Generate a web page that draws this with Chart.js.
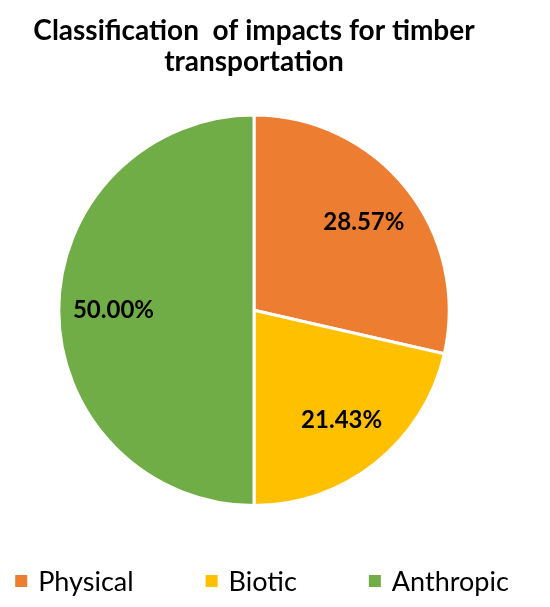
<!DOCTYPE html>
<html lang="en">
<head>
    <meta charset="UTF-8">
    <title>Timber transportation impacts</title>
    <script src="https://cdn.jsdelivr.net/npm/chart.js"></script>
    <style>
        body { margin: 0; background: #fff; }
    </style>
</head>
<body>
<canvas id="myChart" width="550" height="607"></canvas>
<script>
const categories = ['Physical', 'Biotic', 'Anthropic'];
const shares = [28.57, 21.43, 50.00];
const sliceColors = ['#ED7D31', '#FFC000', '#70AD47'];
const titleLines = ['Classification  of impacts for timber', 'transportation'];

const FONT = 'Lato, "Open Sans", sans-serif';

// percentages written inside each slice
const sliceLabels = {
    id: 'sliceLabels',
    afterDatasetsDraw(chart) {
        const c = chart.ctx;
        const meta = chart.getDatasetMeta(0);
        c.save();
        c.font = 'bold 24px ' + FONT;
        c.fillStyle = '#000';
        c.textAlign = 'center';
        c.textBaseline = 'middle';
        meta.data.forEach((arc, i) => {
            const mid = (arc.startAngle + arc.endAngle) / 2;
            const r = arc.outerRadius * 0.72;
            c.fillText(shares[i].toFixed(2) + '%', arc.x + Math.cos(mid) * r, arc.y + Math.sin(mid) * r);
        });
        c.restore();
    }
};

// legend row along the bottom, wider spacing than the built-in legend allows
const bottomLegend = {
    id: 'bottomLegend',
    afterDraw(chart) {
        const c = chart.ctx;
        const box = 12, gap = 11, spacing = 72;
        c.save();
        c.font = '27px ' + FONT;
        const widths = categories.map(t => c.measureText(t).width);
        const total = widths.reduce((a, w) => a + box + gap + w, 0) + spacing * (categories.length - 1);
        let x = 262 - total / 2;
        const y = 581;
        c.textBaseline = 'middle';
        categories.forEach((t, i) => {
            c.fillStyle = sliceColors[i];
            c.fillRect(x, y - box / 2, box, box);
            c.fillStyle = '#000';
            c.fillText(t, x + box + gap, y + 1);
            x += box + gap + widths[i] + spacing;
        });
        c.restore();
    }
};

new Chart(document.getElementById('myChart'), {
    type: 'pie',
    data: {
        labels: categories,
        datasets: [{
            data: shares,
            backgroundColor: sliceColors,
            borderColor: '#fff',
            borderWidth: 3
        }]
    },
    options: {
        responsive: false,
        animation: false,
        layout: { padding: { left: 0, right: 42, top: 16, bottom: 100 } },
        plugins: {
            title: {
                display: true,
                text: titleLines,
                color: '#000',
                font: { family: FONT, size: 28, weight: 'bold', lineHeight: 1.1 },
                padding: { top: 0, bottom: 36 }
            },
            legend: { display: false },
            tooltip: { enabled: false }
        }
    },
    plugins: [sliceLabels, bottomLegend]
});
</script>
</body>
</html>
